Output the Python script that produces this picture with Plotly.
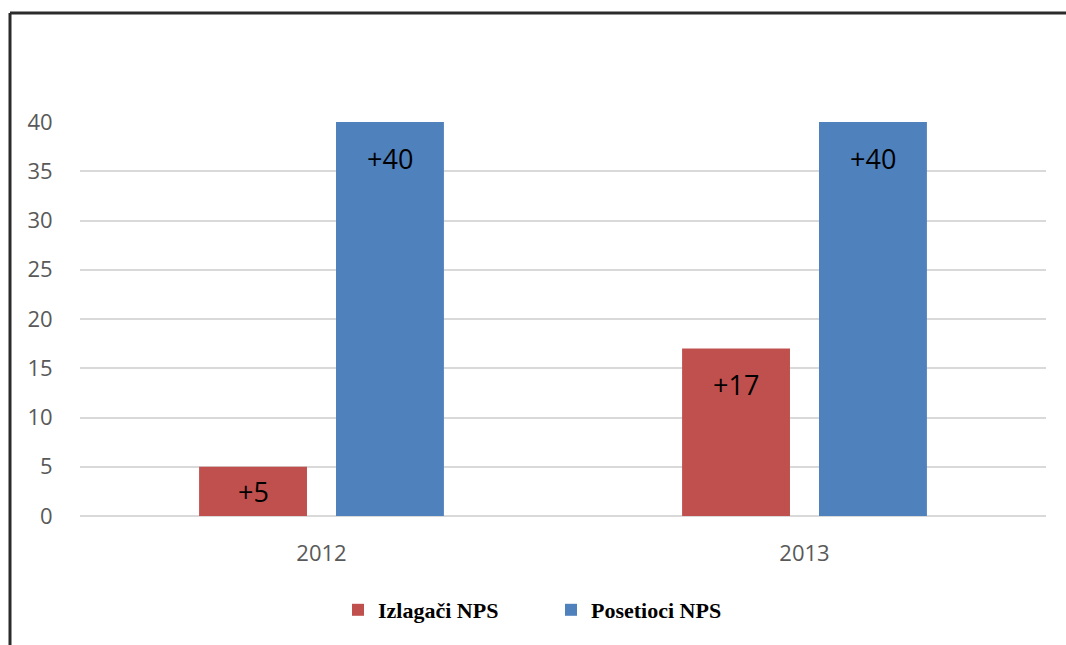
import plotly.graph_objects as go

years = ["2012", "2013"]
izlagaci = [5, 17]
posetioci = [40, 40]
izlagaci_labels = ["+5", "+17"]
posetioci_labels = ["+40", "+40"]
y_ticks = [0, 5, 10, 15, 20, 25, 30, 35, 40]

RED = "#c0504d"
BLUE = "#4f81bd"
W, H = 1066, 645
ML, MR, MT, MB = 80, 20, 122, 129
PW, PH = W - ML - MR, H - MT - MB
Y_MAX = 40

fig = go.Figure()
fig.add_trace(go.Bar(x=years, y=izlagaci, name="Izlagači NPS", marker=dict(color=RED, line=dict(width=0))))
fig.add_trace(go.Bar(x=years, y=posetioci, name="Posetioci NPS", marker=dict(color=BLUE, line=dict(width=0))))

lab_font = dict(family="Open Sans, Lato, sans-serif", size=27, color="#000000")
for vals, labs, shift in [(izlagaci, izlagaci_labels, -68.5), (posetioci, posetioci_labels, 68.5)]:
    for i, (v, t) in enumerate(zip(vals, labs)):
        half_px = v * PH / Y_MAX / 2
        fig.add_annotation(x=i, y=v, text=t, showarrow=False, xref="x", yref="y",
                           xshift=shift, yanchor="middle", yshift=-min(36, half_px), font=lab_font)

def px_x(p):
    return (p - ML) / PW

def px_y(p):
    return (H - p - MB) / PH

line_style = dict(color="#2b2b2b", width=3)
fig.add_shape(type="line", xref="paper", yref="paper", x0=px_x(10), x1=px_x(W + 5), y0=px_y(13), y1=px_y(13), line=line_style)
fig.add_shape(type="line", xref="paper", yref="paper", x0=px_x(10), x1=px_x(10), y0=px_y(13), y1=px_y(H + 5), line=line_style)

tick_font = dict(family="Open Sans, Lato, sans-serif", size=22, color="#595959")
fig.update_layout(
    width=W, height=H,
    margin=dict(l=ML, r=MR, t=MT, b=MB),
    paper_bgcolor="white", plot_bgcolor="white",
    autotypenumbers="strict",
    barmode="group", bargap=0.433, bargroupgap=0.212,
    showlegend=True,
    legend=dict(orientation="h", x=px_x(338), xanchor="left", y=px_y(610), yanchor="middle",
                font=dict(family="Liberation Serif, serif", size=22, color="#000000", weight="bold"),
                entrywidth=168, itemwidth=30, bgcolor="rgba(0,0,0,0)"),
    xaxis=dict(type="category", range=[-0.5, len(years) - 0.5], showgrid=False, showline=False, zeroline=False,
               ticks="outside", ticklen=18, tickcolor="rgba(0,0,0,0)", tickfont=tick_font),
    yaxis=dict(range=[0, Y_MAX], tickvals=y_ticks, showgrid=True, gridcolor="#d9d9d9", gridwidth=2,
               zeroline=True, zerolinecolor="#d9d9d9", zerolinewidth=2, showline=False,
               ticks="outside", ticklen=22, tickcolor="rgba(0,0,0,0)", tickfont=tick_font),
)

fig.write_html("out.html")
